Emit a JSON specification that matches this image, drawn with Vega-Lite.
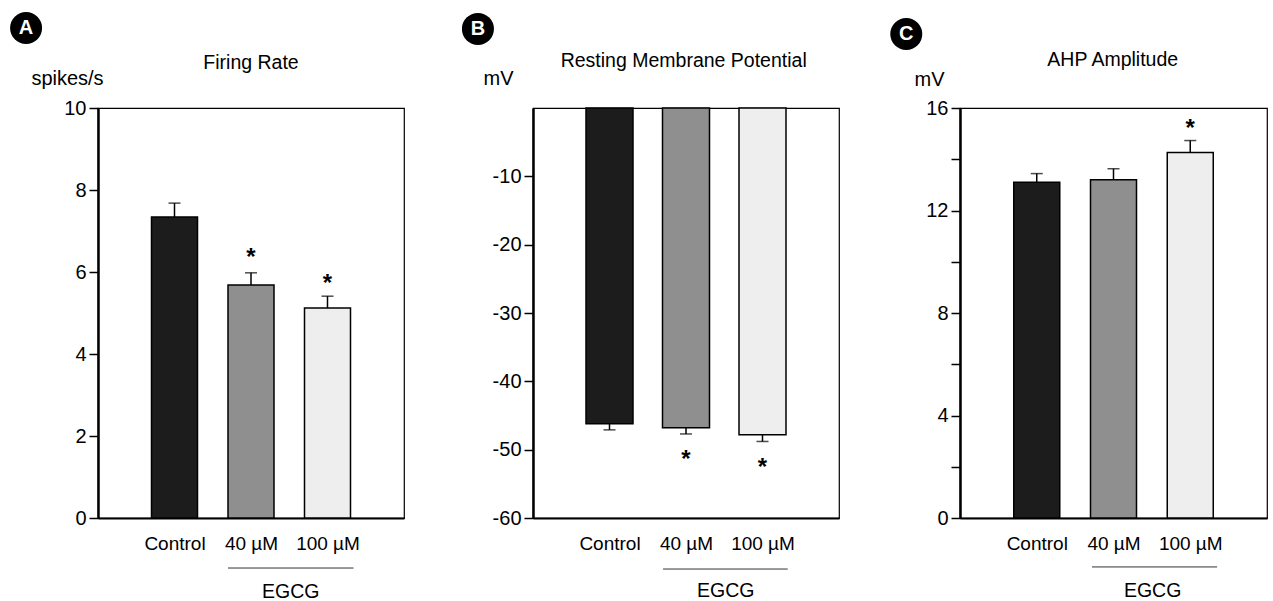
{
  "$schema": "https://vega.github.io/schema/vega-lite/v6.json",
  "padding": {"left": 9, "top": 11, "right": 0, "bottom": 0},
  "background": "white",
  "config": {
    "font": "Liberation Sans",
    "view": {"stroke": "#000", "strokeWidth": 1.2},
    "scale": {"continuousPadding": 0},
    "axis": {"labelFont": "Liberation Sans", "labelFontSize": 20, "labelColor": "#000", "titleColor": "#000", "titleFont": "Liberation Sans", "grid": false, "domainColor": "#000", "tickColor": "#000"},
    "axisX": {"labelFontSize": 19}
  },
  "bounds": "flush",
  "spacing": 129,
  "hconcat": [
    {
      "width": 306, "height": 410,
      "layer": [
        {
          "data": {"values": [
            {"g": "Control", "pos": 1, "v": 7.34, "hi": 7.68},
            {"g": "40 µM", "pos": 2, "v": 5.68, "hi": 5.98, "star": 6.17},
            {"g": "100 µM", "pos": 3, "v": 5.12, "hi": 5.41, "star": 5.54}
          ]},
          "layer": [
            {"mark": {"type": "bar", "width": 46, "stroke": "#000", "strokeWidth": 1.5},
             "encoding": {
               "x": {"field": "pos", "type": "quantitative", "scale": {"domain": [0, 4], "nice": false, "padding": 0}, "axis": {"title": null, "values": [1, 2, 3], "labelExpr": "datum.value == 1 ? 'Control' : datum.value == 2 ? '40 µM' : '100 µM'", "ticks": false, "domainWidth": 2, "labelPadding": 16, "labelFlush": false, "labelOverlap": false}},
               "y": {"field": "v", "type": "quantitative", "scale": {"domain": [0, 10], "nice": false, "padding": 0}, "axis": {"values": [0, 2, 4, 6, 8, 10], "labelExpr": "datum.value + ''", "title": "spikes/s", "titleAngle": 0, "titleX": -31, "titleY": -24, "titleAlign": "center", "titleBaseline": "alphabetic", "titleFontSize": 20, "titleFontWeight": "normal", "tickSize": 9, "tickWidth": 1.5, "domainWidth": 2.5, "labelPadding": 3}},
               "fill": {"field": "g", "type": "nominal", "scale": {"domain": ["Control", "40 µM", "100 µM"], "range": ["#1c1c1c", "#8f8f8f", "#eeeeee"]}, "legend": null}
             }},
            {"mark": {"type": "rule", "strokeWidth": 1.5, "color": "#000"},
             "encoding": {"x": {"field": "pos", "type": "quantitative"}, "y": {"field": "v", "type": "quantitative"}, "y2": {"field": "hi"}}},
            {"mark": {"type": "tick", "orient": "horizontal", "size": 12, "thickness": 1.5, "color": "#000"},
             "encoding": {"x": {"field": "pos", "type": "quantitative"}, "y": {"field": "hi", "type": "quantitative"}}},
            {"transform": [{"filter": "isValid(datum.star)"}],
             "mark": {"type": "text", "text": "*", "fontSize": 24, "fontWeight": "bold", "baseline": "alphabetic", "align": "center", "color": "#000"},
             "encoding": {"x": {"field": "pos", "type": "quantitative"}, "y": {"field": "star", "type": "quantitative"}}}
          ]
        },
        {
          "data": {"values": [{"pos": -0.94, "y": 11.95, "letter": "A"}]},
          "layer": [
            {"mark": {"type": "point", "shape": "circle", "filled": true, "size": 1024, "color": "#000", "opacity": 1},
             "encoding": {"x": {"field": "pos", "type": "quantitative"}, "y": {"field": "y", "type": "quantitative"}}},
            {"mark": {"type": "text", "fontSize": 20, "fontWeight": "bold", "color": "#fff", "baseline": "middle", "align": "center"},
             "encoding": {"x": {"field": "pos", "type": "quantitative"}, "y": {"field": "y", "type": "quantitative"}, "text": {"field": "letter"}}}
          ]
        },
        {
          "data": {"values": [
            {"xt": 2.0, "yt": 10.95, "label": "Firing Rate", "fs": "t"},
            {"xt": 2.52, "yt": -1.95, "label": "EGCG", "fs": "e"}
          ]},
          "mark": {"type": "text", "fontSize": 19.5, "baseline": "alphabetic", "align": "center", "color": "#000"},
          "encoding": {"x": {"field": "xt", "type": "quantitative"}, "y": {"field": "yt", "type": "quantitative"}, "text": {"field": "label"}}
        },
        {
          "data": {"values": [{"x1": 1.7, "x2": 3.34, "yl": -1.22}]},
          "mark": {"type": "rule", "strokeWidth": 1, "color": "#333"},
          "encoding": {"x": {"field": "x1", "type": "quantitative"}, "x2": {"field": "x2"}, "y": {"field": "yl", "type": "quantitative"}}
        }
      ]
    },
    {
      "bounds": "flush",
      "spacing": 121,
      "hconcat": [
        {
          "width": 306, "height": 410,
          "layer": [
            {
              "data": {"values": [
                {"g": "Control", "pos": 1, "v": -46.2, "hi": -47.1},
                {"g": "40 µM", "pos": 2, "v": -46.8, "hi": -47.7, "star": -52.5},
                {"g": "100 µM", "pos": 3, "v": -47.8, "hi": -48.8, "star": -53.7}
              ]},
              "layer": [
                {"mark": {"type": "bar", "width": 47, "stroke": "#000", "strokeWidth": 1.5},
                 "encoding": {
                   "x": {"field": "pos", "type": "quantitative", "scale": {"domain": [0, 4], "nice": false, "padding": 0}, "axis": {"title": null, "values": [1, 2, 3], "labelExpr": "datum.value == 1 ? 'Control' : datum.value == 2 ? '40 µM' : '100 µM'", "ticks": false, "domainWidth": 2, "labelPadding": 16, "labelFlush": false, "labelOverlap": false}},
                   "y": {"field": "v", "type": "quantitative", "scale": {"domain": [-60, 0], "nice": false, "padding": 0}, "axis": {"values": [-60, -50, -40, -30, -20, -10], "labelExpr": "datum.value + ''", "title": "mV", "titleAngle": 0, "titleX": -35, "titleY": -24, "titleAlign": "center", "titleBaseline": "alphabetic", "titleFontSize": 20, "titleFontWeight": "normal", "tickSize": 9, "tickWidth": 1.5, "domainWidth": 2.5, "labelPadding": 3}},
                   "fill": {"field": "g", "type": "nominal", "scale": {"domain": ["Control", "40 µM", "100 µM"], "range": ["#111111", "#8a8a8a", "#eeeeee"]}, "legend": null}
                 }},
                {"mark": {"type": "rule", "strokeWidth": 1.5, "color": "#000"},
                 "encoding": {"x": {"field": "pos", "type": "quantitative"}, "y": {"field": "v", "type": "quantitative"}, "y2": {"field": "hi"}}},
                {"mark": {"type": "tick", "orient": "horizontal", "size": 12, "thickness": 1.5, "color": "#000"},
                 "encoding": {"x": {"field": "pos", "type": "quantitative"}, "y": {"field": "hi", "type": "quantitative"}}},
                {"transform": [{"filter": "isValid(datum.star)"}],
                 "mark": {"type": "text", "text": "*", "fontSize": 24, "fontWeight": "bold", "baseline": "alphabetic", "align": "center", "color": "#000"},
                 "encoding": {"x": {"field": "pos", "type": "quantitative"}, "y": {"field": "star", "type": "quantitative"}}}
              ]
            },
            {
              "data": {"values": [{"pos": -0.72, "y": 11.57, "letter": "B"}]},
              "layer": [
                {"mark": {"type": "point", "shape": "circle", "filled": true, "size": 1024, "color": "#000", "opacity": 1},
                 "encoding": {"x": {"field": "pos", "type": "quantitative"}, "y": {"field": "y", "type": "quantitative"}}},
                {"mark": {"type": "text", "fontSize": 20, "fontWeight": "bold", "color": "#fff", "baseline": "middle", "align": "center"},
                 "encoding": {"x": {"field": "pos", "type": "quantitative"}, "y": {"field": "y", "type": "quantitative"}, "text": {"field": "letter"}}}
              ]
            },
            {
              "data": {"values": [
                {"xt": 1.97, "yt": 6.0, "label": "Resting Membrane Potential"},
                {"xt": 2.52, "yt": -71.57, "label": "EGCG"}
              ]},
              "mark": {"type": "text", "fontSize": 19.5, "baseline": "alphabetic", "align": "center", "color": "#000"},
              "encoding": {"x": {"field": "xt", "type": "quantitative"}, "y": {"field": "yt", "type": "quantitative"}, "text": {"field": "label"}}
            },
            {
              "data": {"values": [{"x1": 1.7, "x2": 3.33, "yl": -67.47}]},
              "mark": {"type": "rule", "strokeWidth": 1, "color": "#333"},
              "encoding": {"x": {"field": "x1", "type": "quantitative"}, "x2": {"field": "x2"}, "y": {"field": "yl", "type": "quantitative"}}
            }
          ]
        },
        {
          "width": 307, "height": 410,
          "layer": [
            {
              "data": {"values": [
                {"g": "Control", "pos": 1, "v": 13.1, "hi": 13.44},
                {"g": "40 µM", "pos": 2, "v": 13.2, "hi": 13.63},
                {"g": "100 µM", "pos": 3, "v": 14.26, "hi": 14.73, "star": 14.89}
              ]},
              "layer": [
                {"mark": {"type": "bar", "width": 46, "stroke": "#000", "strokeWidth": 1.5},
                 "encoding": {
                   "x": {"field": "pos", "type": "quantitative", "scale": {"domain": [0, 4], "nice": false, "padding": 0}, "axis": {"title": null, "values": [1, 2, 3], "labelExpr": "datum.value == 1 ? 'Control' : datum.value == 2 ? '40 µM' : '100 µM'", "ticks": false, "domainWidth": 2, "labelPadding": 16, "labelFlush": false, "labelOverlap": false}},
                   "y": {"field": "v", "type": "quantitative", "scale": {"domain": [0, 16], "nice": false, "padding": 0}, "axis": {"values": [0, 2, 4, 6, 8, 10, 12, 14, 16], "labelExpr": "datum.value % 4 == 0 ? datum.value + '' : ''", "title": "mV", "titleAngle": 0, "titleX": -31, "titleY": -23, "titleAlign": "center", "titleBaseline": "alphabetic", "titleFontSize": 20, "titleFontWeight": "normal", "tickSize": 9, "tickWidth": 1.5, "domainWidth": 2.5, "labelPadding": 3, "labelOverlap": false}},
                   "fill": {"field": "g", "type": "nominal", "scale": {"domain": ["Control", "40 µM", "100 µM"], "range": ["#1c1c1c", "#8f8f8f", "#eeeeee"]}, "legend": null}
                 }},
                {"mark": {"type": "rule", "strokeWidth": 1.5, "color": "#000"},
                 "encoding": {"x": {"field": "pos", "type": "quantitative"}, "y": {"field": "v", "type": "quantitative"}, "y2": {"field": "hi"}}},
                {"mark": {"type": "tick", "orient": "horizontal", "size": 12, "thickness": 1.5, "color": "#000"},
                 "encoding": {"x": {"field": "pos", "type": "quantitative"}, "y": {"field": "hi", "type": "quantitative"}}},
                {"transform": [{"filter": "isValid(datum.star)"}],
                 "mark": {"type": "text", "text": "*", "fontSize": 24, "fontWeight": "bold", "baseline": "alphabetic", "align": "center", "color": "#000"},
                 "encoding": {"x": {"field": "pos", "type": "quantitative"}, "y": {"field": "star", "type": "quantitative"}}}
              ]
            },
            {
              "data": {"values": [{"pos": -0.7, "y": 18.89, "letter": "C"}]},
              "layer": [
                {"mark": {"type": "point", "shape": "circle", "filled": true, "size": 1024, "color": "#000", "opacity": 1},
                 "encoding": {"x": {"field": "pos", "type": "quantitative"}, "y": {"field": "y", "type": "quantitative"}}},
                {"mark": {"type": "text", "fontSize": 20, "fontWeight": "bold", "color": "#fff", "baseline": "middle", "align": "center"},
                 "encoding": {"x": {"field": "pos", "type": "quantitative"}, "y": {"field": "y", "type": "quantitative"}, "text": {"field": "letter"}}}
              ]
            },
            {
              "data": {"values": [
                {"xt": 1.99, "yt": 17.64, "label": "AHP Amplitude"},
                {"xt": 2.51, "yt": -3.09, "label": "EGCG"}
              ]},
              "mark": {"type": "text", "fontSize": 19.5, "baseline": "alphabetic", "align": "center", "color": "#000"},
              "encoding": {"x": {"field": "xt", "type": "quantitative"}, "y": {"field": "yt", "type": "quantitative"}, "text": {"field": "label"}}
            },
            {
              "data": {"values": [{"x1": 1.72, "x2": 3.35, "yl": -1.91}]},
              "mark": {"type": "rule", "strokeWidth": 1, "color": "#333"},
              "encoding": {"x": {"field": "x1", "type": "quantitative"}, "x2": {"field": "x2"}, "y": {"field": "yl", "type": "quantitative"}}
            }
          ]
        }
      ]
    }
  ]
}
